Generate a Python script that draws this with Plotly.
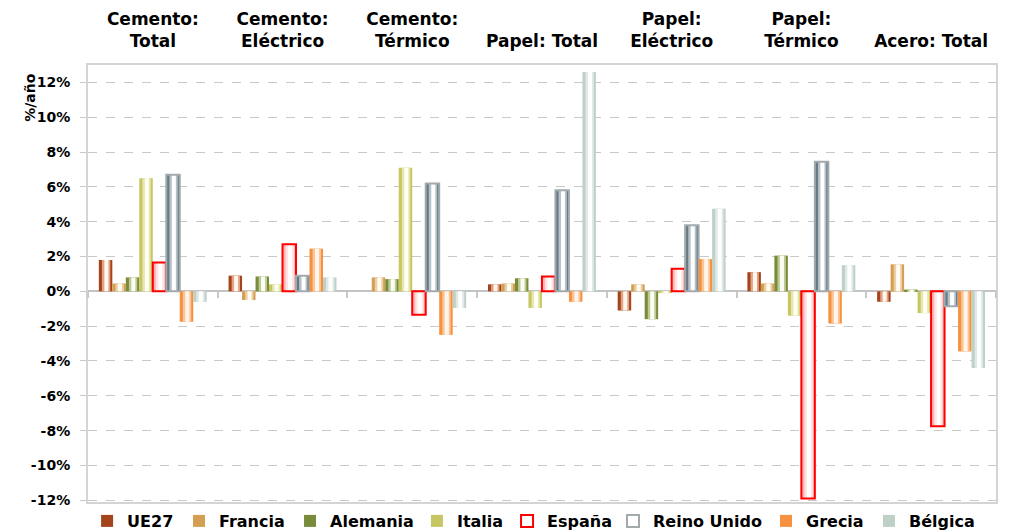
"""Variación anual de consumo energético por sector y país"""

import plotly.graph_objects as go

CATEGORIES = [
    "Cemento:<br>Total",
    "Cemento:<br>Eléctrico",
    "Cemento:<br>Térmico",
    "Papel: Total",
    "Papel:<br>Eléctrico",
    "Papel:<br>Térmico",
    "Acero: Total",
]

UE27 = [1.8, 0.9, None, 0.4, -1.1, 1.1, -0.6]
FRANCIA = [0.45, -0.5, 0.8, 0.45, 0.4, 0.45, 1.55]
ALEMANIA = [0.8, 0.85, 0.7, 0.75, -1.6, 2.05, 0.1]
ITALIA = [6.5, 0.4, 7.1, -0.95, -0.1, -1.4, -1.25]
ESPANA = [1.65, 2.7, -1.35, 0.85, 1.3, -11.9, -7.75]
REINO_UNIDO = [6.7, 0.9, 6.2, 5.8, 3.8, 7.45, -0.85]
GRECIA = [-1.75, 2.45, -2.5, -0.6, 1.85, -1.85, -3.45]
BELGICA = [-0.6, 0.8, -0.95, 12.6, 4.75, 1.5, -4.4]

Y_TICK_VALUES = [-12, -10, -8, -6, -4, -2, 0, 2, 4, 6, 8, 10, 12]
Y_TICK_LABELS = ["-12%", "-10%", "-8%", "-6%", "-4%", "-2%", "0%",
                 "2%", "4%", "6%", "8%", "10%", "12%"]

# name, values, (edge, mid, centre) colours, outline colour
SERIES = [
    ("UE27", UE27, ("#A3441C", "#E3A483", "#FFF6F0"), None),
    ("Francia", FRANCIA, ("#D3A053", "#ECCFA2", "#FFFCF6"), None),
    ("Alemania", ALEMANIA, ("#788B3A", "#BFCB97", "#FBFDF5"), None),
    ("Italia", ITALIA, ("#C6C763", "#E6E6AE", "#FFFFF4"), None),
    ("España", ESPANA, ("#FFB4B4", "#FFE2E2", "#FFFFFF"), "#FF0000"),
    ("Reino Unido", REINO_UNIDO, ("#667A84", "#B5C1C7", "#FFFFFF"), "#A2AAAE"),
    ("Grecia", GRECIA, ("#F6923F", "#FBC697", "#FFF5EC"), None),
    ("Bélgica", BELGICA, ("#BFD1C7", "#E0E9E4", "#FFFFFF"), None),
]

# one small legend per series so the entries sit where the original has them
LEGEND_X = [-0.001, 0.1002, 0.2225, 0.3623, 0.4615, 0.5782, 0.7467, 0.8601]

BAR_W = 0.104
START = -0.4165
FONT = "DejaVu Sans"

fig = go.Figure()

for i, (name, values, colours, outline) in enumerate(SERIES):
    left = START + i * BAR_W
    legend_id = "legend" if i == 0 else f"legend{i + 1}"
    # (width fraction, shift to the right as fraction of bar, colour)
    layers = [(1.0, 0.0, colours[0]), (0.62, 0.04, colours[1]), (0.3, 0.06, colours[2])]
    for k, (frac, shift, col) in enumerate(layers):
        w = BAR_W * frac
        fig.add_trace(
            go.Bar(
                x=CATEGORIES,
                y=values,
                width=w,
                offset=left + (BAR_W - w) / 2 + shift * BAR_W,
                marker=dict(color=col, line=dict(width=0)),
                name=name,
                legend=legend_id,
                showlegend=(k == 0 and outline is None),
                hoverinfo="skip" if k else None,
            )
        )
    if outline:
        fig.add_trace(
            go.Bar(
                x=CATEGORIES,
                y=values,
                width=BAR_W,
                offset=left,
                marker=dict(color="rgba(0,0,0,0)", line=dict(color=outline, width=2)),
                name=name,
                legend=legend_id,
                showlegend=True,
            )
        )

legends = {}
for i, lx in enumerate(LEGEND_X):
    key = "legend" if i == 0 else f"legend{i + 1}"
    legends[key] = dict(
        orientation="h",
        x=lx,
        xanchor="left",
        y=-0.0435,
        yanchor="middle",
        bgcolor="rgba(0,0,0,0)",
        font=dict(family=FONT, size=16, weight="bold"),
    )

# the page body adds an 8px margin, so the figure is 8px smaller than the window
fig.update_layout(
    barmode="overlay",
    width=1001,
    height=522,
    margin=dict(l=80, r=13, t=57, b=28, autoexpand=False),
    paper_bgcolor="white",
    plot_bgcolor="white",
    font=dict(family=FONT, color="black", size=14, weight="bold"),
    showlegend=True,
    **legends,
    xaxis=dict(
        type="category",
        categoryarray=CATEGORIES,
        side="top",
        automargin=False,
        showline=True,
        mirror=True,
        linecolor="#D4D4D4",
        linewidth=2,
        showgrid=False,
        ticks="",
        ticklabelstandoff=9,
        tickfont=dict(family=FONT, size=17, weight="bold"),
    ),
    xaxis2=dict(
        type="category",
        categoryarray=CATEGORIES,
        matches="x",
        overlaying="x",
        anchor="free",
        position=12.1 / 25.1,
        automargin=False,
        showline=False,
        showgrid=False,
        ticks="outside",
        tickson="boundaries",
        ticklen=6,
        tickcolor="#C8C8C8",
        tickwidth=2,
        showticklabels=False,
    ),
    yaxis=dict(
        range=[-12.1, 13.0],
        tickvals=Y_TICK_VALUES,
        ticktext=Y_TICK_LABELS,
        automargin=False,
        showline=True,
        mirror=True,
        linecolor="#D4D4D4",
        linewidth=2,
        ticks="outside",
        ticklen=6,
        tickcolor="#C8C8C8",
        ticklabelstandoff=7,
        showgrid=True,
        gridcolor="#C8C8C8",
        gridwidth=1.2,
        griddash="dash",
        zeroline=True,
        zerolinecolor="#C4C4C4",
        zerolinewidth=2,
        tickfont=dict(family=FONT, size=14, weight="bold"),
    ),
)

# dummy trace so the boundary ticks on the zero line get drawn
fig.add_trace(
    go.Bar(x=CATEGORIES, y=[None] * len(CATEGORIES), xaxis="x2",
           showlegend=False, hoverinfo="skip")
)

fig.add_annotation(
    text="%/año",
    xref="paper",
    yref="paper",
    x=-0.064,
    y=0.927,
    xanchor="center",
    yanchor="middle",
    textangle=-90,
    showarrow=False,
    font=dict(family=FONT, size=14, weight="bold"),
)

fig.write_html("out.html")
